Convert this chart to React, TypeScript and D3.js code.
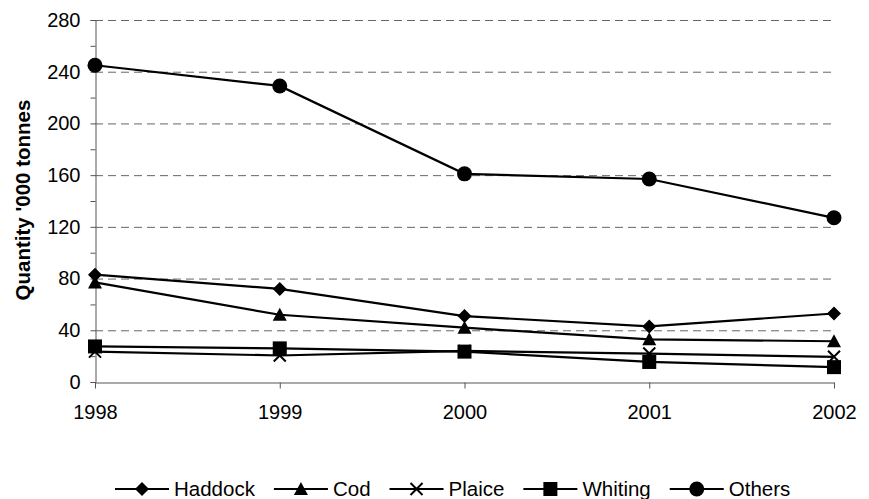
import { useRef, useEffect } from 'react';
import * as d3 from 'd3';

const years = ['1998', '1999', '2000', '2001', '2002'];
const haddock = [83, 72, 51, 43, 53];
const cod = [77, 52, 42, 33, 31.5];
const plaice = [23.5, 20.5, 24, 22, 19.5];
const whiting = [27.5, 26, 23.5, 15.5, 11.5];
const others = [245, 229, 161, 157, 127];
const seriesNames = ['Haddock', 'Cod', 'Plaice', 'Whiting', 'Others'];
const yTicks = [0, 40, 80, 120, 160, 200, 240, 280];

const FONT = 'Arial, "Liberation Sans", sans-serif';

export default function App() {
	const svgRef = useRef<SVGSVGElement>(null);

	useEffect(() => {
		const svg = d3.select(svgRef.current);
		svg.selectAll('*').remove();

		const width = 869;
		const height = 499;
		const left = 95;
		const right = 834;
		const top = 20;
		const bottom = 382;

		svg.attr('width', width).attr('height', height);

		const xScale = d3.scalePoint<string>().domain(years).range([left, right]);
		const yScale = d3.scaleLinear().domain([0, 280]).range([bottom, top]);

		// gridlines
		svg.append('g')
			.selectAll('line')
			.data(yTicks.filter((t) => t > 0))
			.join('line')
			.attr('x1', left)
			.attr('x2', right)
			.attr('y1', (d) => yScale(d) + 0.5)
			.attr('y2', (d) => yScale(d) + 0.5)
			.attr('stroke', '#666')
			.attr('stroke-width', 1)
			.attr('stroke-dasharray', '8,5');

		// y axis
		const yAxis = svg
			.append('g')
			.attr('transform', `translate(${left + 0.5},0)`)
			.call(
				d3
					.axisLeft(yScale)
					.tickValues(d3.range(0, 281, 20))
					.tickSize(5)
					.tickFormat((d) => ((d as number) % 40 === 0 ? String(d) : '')),
			);
		yAxis.select('.domain').attr('stroke', '#555');
		yAxis.selectAll('line').attr('stroke', '#555');
		yAxis
			.selectAll('text')
			.attr('font-size', 20)
			.attr('font-family', FONT)
			.attr('fill', '#000')
			.attr('x', -15);

		// x axis
		const xAxis = svg
			.append('g')
			.attr('transform', `translate(0,${bottom + 0.5})`)
			.call(d3.axisBottom(xScale).tickSize(6).tickSizeOuter(0));
		xAxis.select('.domain').attr('stroke', '#555');
		xAxis.selectAll('line').attr('stroke', '#555');
		xAxis
			.selectAll('text')
			.attr('font-size', 20)
			.attr('font-family', FONT)
			.attr('fill', '#000')
			.attr('y', 22);

		// y label
		svg.append('text')
			.attr('transform', `translate(30,200) rotate(-90)`)
			.attr('text-anchor', 'middle')
			.attr('font-family', FONT)
			.attr('font-size', 20.5)
			.attr('font-weight', 'bold')
			.text("Quantity '000 tonnes");

		const allSeries = [haddock, cod, plaice, whiting, others];

		const drawMarker = (
			g: d3.Selection<SVGGElement, unknown, null, undefined>,
			idx: number,
			x: number,
			y: number,
		) => {
			if (idx === 0) {
				g.append('path')
					.attr('d', `M${x},${y - 7}L${x + 7},${y}L${x},${y + 7}L${x - 7},${y}Z`)
					.attr('fill', '#000');
			} else if (idx === 1) {
				g.append('path')
					.attr('d', `M${x},${y - 7}L${x + 7},${y + 6}L${x - 7},${y + 6}Z`)
					.attr('fill', '#000');
			} else if (idx === 2) {
				g.append('path')
					.attr('d', `M${x - 6},${y - 6}L${x + 6},${y + 6}M${x + 6},${y - 6}L${x - 6},${y + 6}`)
					.attr('stroke', '#000')
					.attr('stroke-width', 2)
					.attr('fill', 'none');
			} else if (idx === 3) {
				g.append('rect')
					.attr('x', x - 7)
					.attr('y', y - 7)
					.attr('width', 14)
					.attr('height', 14)
					.attr('fill', '#000');
			} else {
				g.append('circle').attr('cx', x).attr('cy', y).attr('r', 7.5).attr('fill', '#000');
			}
		};

		const line = d3
			.line<number>()
			.x((_, i) => xScale(years[i]) as number)
			.y((d) => yScale(d));

		allSeries.forEach((vals, idx) => {
			const g = svg.append('g');
			g.append('path')
				.attr('d', line(vals))
				.attr('fill', 'none')
				.attr('stroke', '#000')
				.attr('stroke-width', 2.2);
			vals.forEach((v, i) => {
				drawMarker(g, idx, xScale(years[i]) as number, yScale(v));
			});
		});

		// legend
		const legendY = 489;
		const legend = svg.append('g');
		let cx = 0;
		seriesNames.forEach((name, idx) => {
			const g = legend.append('g');
			g.append('line')
				.attr('x1', cx)
				.attr('x2', cx + 54)
				.attr('y1', legendY)
				.attr('y2', legendY)
				.attr('stroke', '#000')
				.attr('stroke-width', 2.2);
			drawMarker(g, idx, cx + 27, legendY);
			const t = g
				.append('text')
				.attr('x', cx + 59)
				.attr('y', legendY + 7)
				.attr('font-family', FONT)
				.attr('font-size', 20.5)
				.text(name);
			const w = (t.node() as SVGTextElement).getComputedTextLength();
			cx += 59 + w + 19;
		});
		legend.attr('transform', `translate(115,0)`);
	}, []);

	return (
		<svg
			ref={svgRef}
			style={{ display: 'block', position: 'absolute', left: 0, top: 0, fontFamily: FONT }}
		/>
	);
}
